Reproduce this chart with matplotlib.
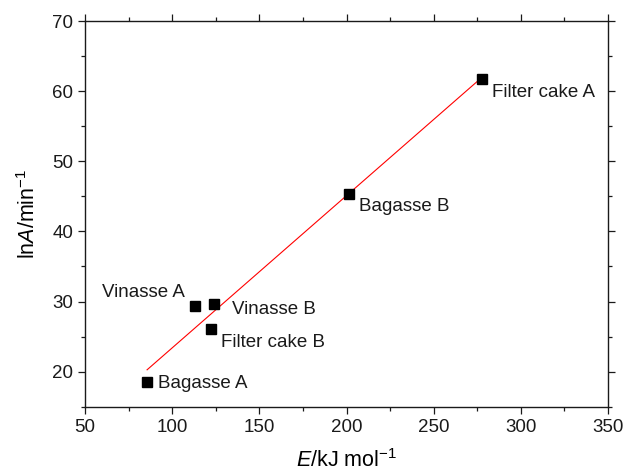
import matplotlib.pyplot as plt
import numpy as np

plt.rcParams['font.family'] = ['Liberation Sans', 'DejaVu Sans']
plt.rcParams['mathtext.fontset'] = 'custom'
plt.rcParams['mathtext.rm'] = 'Liberation Sans'
plt.rcParams['mathtext.it'] = 'Liberation Sans:italic'

# Data
samples = ['Bagasse A', 'Vinasse A', 'Vinasse B', 'Filter cake B', 'Bagasse B', 'Filter cake A']
energy = [85.6, 113.1, 123.8, 122.4, 201.4, 277.8]
ln_a = [18.5, 29.3, 29.7, 26.1, 45.3, 61.8]

# label offsets in pixels (dx, dy), and horizontal alignment
label_offsets = [(11, -1), (-10, 14), (18, -6), (10, -14), (10, -12), (10, -14)]
label_align = ['left', 'right', 'left', 'left', 'left', 'left']

fig = plt.figure(figsize=(6.27, 4.71), dpi=100)
ax = fig.add_axes([0.1356, 0.1365, 0.8341, 0.8189])

# linear fit
slope, intercept = np.polyfit(energy, ln_a, 1)
xfit = np.array([min(energy), max(energy)])
ax.plot(xfit, slope * xfit + intercept, color='red', lw=0.8, zorder=2)

ax.plot(energy, ln_a, 's', color='black', markersize=6.5, zorder=3)

for name, x, y, off, ha in zip(samples, energy, ln_a, label_offsets, label_align):
    ax.annotate(name, (x, y), xytext=off, textcoords='offset pixels',
                ha=ha, va='center', fontsize=13.5, color='#1a1a1a')

ax.set_xlim(50, 350)
ax.set_ylim(15, 70)
ax.set_xticks([50, 100, 150, 200, 250, 300, 350])
ax.set_yticks([20, 30, 40, 50, 60, 70])
ax.set_xticks(np.arange(75, 350, 50), minor=True)
ax.set_yticks(np.arange(15, 70, 10), minor=True)

ax.tick_params(which='both', direction='out', top=True, right=True, width=0.9,
               labelsize=13.5, colors='#1a1a1a')
ax.tick_params(which='major', length=5)
ax.tick_params(which='minor', length=3)
for s in ax.spines.values():
    s.set_linewidth(1.0)
    s.set_color('#1a1a1a')

ax.set_xlabel(r'$\it{E}$/kJ mol$^{-1}$', fontsize=15.5, labelpad=10)
ax.set_ylabel(r'ln$\it{A}$/min$^{-1}$', fontsize=15.5, labelpad=9)

fig.savefig('out.png', dpi=100)
